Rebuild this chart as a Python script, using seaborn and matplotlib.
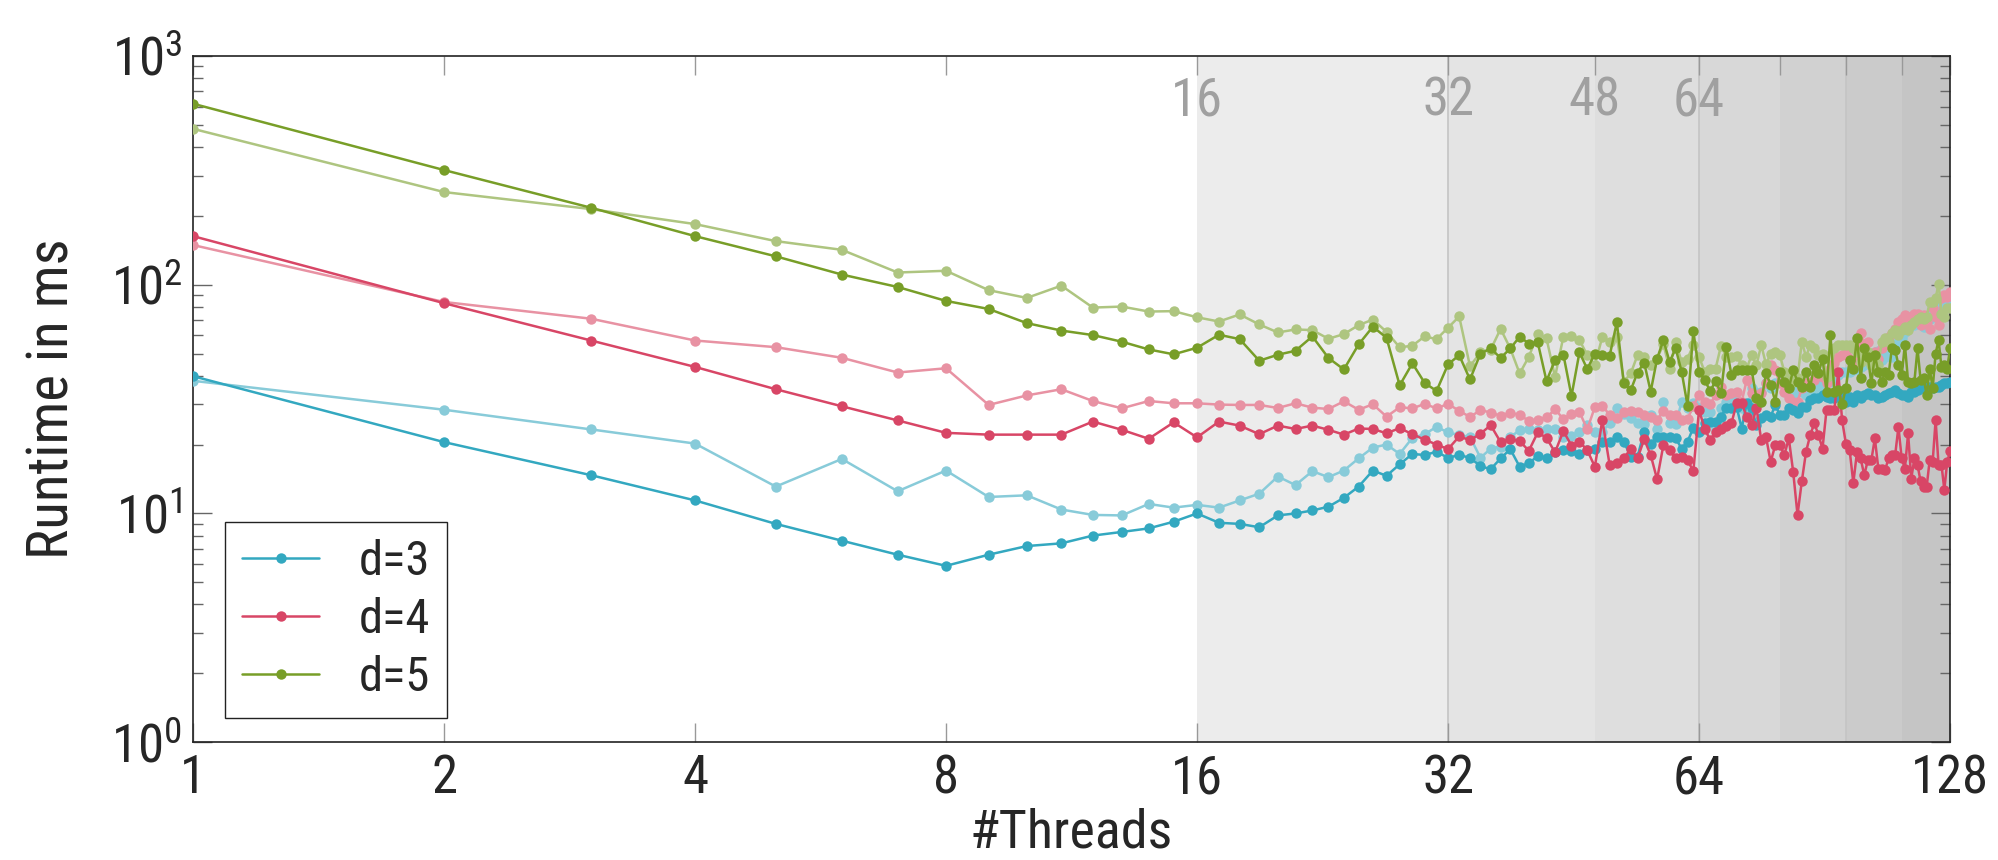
import numpy as np
import pandas as pd
import matplotlib
matplotlib.use('Agg')
import matplotlib.pyplot as plt
import matplotlib.ticker as mticker
from matplotlib import font_manager
import seaborn as sns

# threads 1..128, runtimes in ms
threads = list(range(1, 129))

d3_dark = [
    39.8, 20.5, 14.7, 11.4, 9.0, 7.6, 6.6, 5.9, 6.6, 7.2, 7.4, 8.0, 8.3, 8.6, 9.2, 10.0,
    9.1, 9.0, 8.7, 9.8, 10.0, 10.3, 10.7, 11.7, 13.1, 15.4, 14.6, 16.4, 18.2, 18.0, 18.6, 17.5,
    18.0, 17.5, 16.1, 15.6, 17.4, 19.1, 16.0, 16.6, 17.8, 17.5, 18.5, 18.9, 18.7, 18.1, 18.9, 19.2,
    20.6, 20.5, 21.6, 20.6, 17.7, 17.7, 22.8, 20.2, 21.6, 21.6, 21.6, 21.3, 19.2, 20.6, 23.7, 22.8,
    24.8, 25.2, 25.2, 26.5, 28.8, 28.8, 29.3, 23.5, 30.3, 28.8, 24.3, 26.0, 26.9, 26.5, 29.8, 26.9,
    26.9, 28.8, 28.3, 27.4, 29.3, 29.3, 31.3, 31.8, 31.8, 32.9, 32.3, 31.8, 31.8, 32.9, 32.9, 30.8,
    32.3, 30.8, 32.9, 31.8, 32.9, 33.5, 32.9, 32.9, 31.8, 32.3, 32.9, 33.5, 34.1, 34.7, 33.5, 32.9,
    32.9, 32.3, 34.1, 34.1, 34.7, 35.2, 35.2, 35.8, 35.8, 35.2, 35.8, 35.8, 36.4, 37.0, 37.0, 37.7]

d3_light = [
    38.0, 28.4, 23.3, 20.2, 13.1, 17.3, 12.5, 15.4, 11.8, 12.0, 10.4, 9.85, 9.8, 11.0, 10.6, 10.9,
    10.6, 11.4, 12.2, 14.5, 13.3, 15.3, 14.4, 15.4, 17.4, 19.4, 20.0, 18.2, 21.4, 22.2, 23.9, 22.6,
    22.0, 21.6, 17.5, 19.2, 19.6, 21.6, 23.1, 23.3, 23.2, 23.3, 23.5, 21.6, 21.8, 22.6, 24.3, 22.8,
    22.8, 24.8, 28.8, 27.1, 26.0, 24.8, 24.5, 26.9, 23.5, 30.8, 24.8, 24.5, 30.8, 28.8, 30.3, 28.8,
    27.8, 27.8, 23.5, 28.8, 30.8, 31.8, 30.8, 28.8, 26.9, 35.2, 33.5, 34.1, 37.0, 35.2, 37.0, 37.7,
    37.7, 34.1, 32.9, 35.2, 34.1, 32.9, 32.9, 33.5, 36.4, 35.2, 37.7, 37.7, 39.5, 40.3, 41.6, 41.6,
    41.6, 42.4, 43.0, 43.8, 44.5, 48.4, 50.0, 50.8, 51.5, 46.8, 48.4, 49.2, 48.4, 54.5, 56.2, 58.2,
    62.2, 64.1, 66.5, 66.5, 67.7, 68.8, 65.5, 70.0, 71.1, 77.4, 80.0, 84.1, 79.0, 81.3, 81.3, 81.3]

d4_dark = [
    163, 83, 57, 43.7, 34.9, 29.4, 25.5, 22.5, 22.1, 22.1, 22.1, 25.2, 23.2, 21.2, 25.0, 21.5,
    25.2, 24.2, 22.2, 24.2, 23.4, 24.2, 23.2, 22.1, 23.5, 23.4, 22.4, 23.6, 22.2, 21.0, 20.0, 19.1,
    21.7, 20.9, 22.3, 24.3, 20.5, 21.1, 20.7, 18.8, 22.6, 21.4, 18.5, 22.9, 19.8, 20.6, 18.9, 16.0,
    25.6, 16.3, 16.6, 17.4, 19.2, 17.4, 21.1, 18.0, 14.1, 19.9, 18.9, 17.4, 17.7, 17.1, 15.3, 28.3,
    23.5, 20.9, 22.8, 23.5, 24.1, 24.8, 30.3, 30.3, 26.5, 24.3, 28.8, 20.9, 21.6, 16.8, 19.9, 19.9,
    18.0, 21.3, 15.2, 9.85, 13.8, 18.6, 22.0, 24.8, 22.0, 19.2, 28.3, 28.3, 28.3, 41.6, 25.6, 20.2,
    18.9, 13.6, 18.6, 17.4, 14.7, 17.1, 17.1, 21.3, 15.7, 15.7, 15.5, 17.4, 18.0, 18.0, 23.9, 17.4,
    15.7, 22.4, 14.2, 17.4, 16.3, 13.8, 13.1, 13.1, 17.1, 16.8, 25.6, 16.3, 16.3, 12.7, 16.8, 18.7]

d4_light = [
    149, 84, 71, 57, 53.3, 47.9, 41.3, 43.1, 29.8, 32.8, 34.9, 31.0, 28.8, 31.0, 30.3, 30.3,
    29.9, 29.8, 29.8, 28.9, 30.3, 29.0, 28.6, 30.9, 28.4, 30.0, 26.5, 29.1, 28.8, 30.1, 28.8, 30.1,
    28.1, 26.4, 28.3, 27.6, 26.7, 27.6, 26.9, 25.4, 25.6, 26.3, 28.5, 25.9, 27.2, 27.8, 23.3, 29.2,
    29.6, 26.9, 26.2, 27.7, 28.1, 27.7, 26.9, 26.5, 25.6, 28.1, 26.9, 26.9, 25.6, 25.8, 29.6, 32.9,
    30.8, 30.0, 32.9, 35.8, 32.9, 33.5, 34.1, 30.8, 38.3, 33.5, 32.4, 33.5, 37.0, 44.5, 42.4, 37.0,
    34.1, 31.8, 30.8, 30.8, 35.2, 37.0, 37.6, 38.3, 40.3, 39.6, 37.0, 43.0, 45.3, 48.4, 49.2, 50.0,
    47.5, 44.5, 46.0, 61.2, 55.3, 56.2, 46.8, 50.9, 47.5, 52.6, 56.2, 59.2, 61.2, 64.3, 68.8, 71.1,
    73.6, 72.3, 71.1, 74.8, 74.2, 66.5, 73.6, 68.8, 64.3, 78.7, 72.3, 66.5, 87.1, 90.0, 88.5, 93.1]

d5_dark = [
    618, 317, 217, 163, 133, 110.7, 97.7, 84.9, 78.3, 67.9, 63.0, 60.2, 56.3, 52.1, 49.6, 53.0,
    60.4, 57.8, 46.5, 49.4, 51.4, 59.4, 47.8, 42.6, 54.8, 65.5, 58.6, 36.3, 45.3, 37.2, 34.3, 44.8,
    49.2, 38.5, 50.0, 52.6, 47.8, 52.6, 59.2, 55.3, 55.9, 37.9, 46.8, 49.5, 32.6, 50.6, 42.8, 49.9,
    49.5, 48.9, 68.4, 37.0, 34.6, 41.3, 45.6, 34.1, 47.5, 57.2, 46.0, 52.6, 41.6, 29.6, 62.6, 41.6,
    38.3, 34.3, 37.9, 33.5, 53.5, 40.3, 42.4, 42.4, 42.4, 42.4, 31.8, 30.8, 40.9, 36.6, 30.8, 41.6,
    37.7, 35.2, 42.4, 37.7, 35.8, 41.6, 35.8, 44.5, 40.9, 47.5, 34.1, 60.1, 34.1, 34.6, 30.0, 35.2,
    46.8, 43.0, 58.2, 38.9, 53.0, 48.4, 37.0, 49.2, 41.6, 37.7, 41.6, 40.3, 52.6, 51.8, 44.5, 40.3,
    54.5, 37.7, 37.0, 37.7, 52.6, 38.3, 39.0, 32.9, 43.0, 35.2, 50.0, 57.2, 43.6, 44.5, 43.0, 52.6]

d5_light = [
    480, 254, 214, 184, 155, 142, 113, 115, 94.6, 87.5, 99, 79.4, 80.2, 76.3, 76.6, 72.0,
    69.0, 74.1, 67.0, 61.8, 63.7, 63.3, 58.0, 60.8, 66.5, 70.4, 62.2, 53.2, 54.1, 59.4, 57.8, 64.8,
    72.6, 44.0, 50.6, 52.0, 64.1, 52.6, 40.9, 48.4, 60.8, 58.2, 39.5, 59.2, 59.6, 57.3, 49.2, 44.5,
    59.2, 56.2, 59.2, 37.7, 40.9, 49.2, 48.4, 44.5, 47.5, 54.8, 43.0, 56.2, 46.0, 47.5, 54.5, 48.4,
    41.6, 43.0, 43.0, 54.1, 48.4, 48.4, 48.9, 44.5, 43.0, 49.2, 44.5, 54.5, 44.8, 50.0, 50.9, 49.2,
    41.6, 40.3, 37.7, 39.0, 56.2, 48.4, 54.5, 52.6, 49.2, 50.0, 39.5, 40.3, 52.6, 54.5, 54.5, 54.5,
    54.5, 52.6, 50.9, 46.0, 47.5, 50.9, 44.5, 45.3, 44.5, 56.2, 58.2, 56.2, 61.2, 63.3, 60.1, 63.3,
    65.5, 63.3, 66.5, 68.8, 71.1, 72.3, 71.1, 72.3, 84.1, 84.1, 87.1, 101, 74.8, 72.3, 78.7, 78.7]

for s in (d3_dark, d3_light, d4_dark, d4_light, d5_dark, d5_light):
    assert len(s) == len(threads)

# shaded thread ranges and their grey levels
band_edges = [16, 32, 48, 64, 80, 96, 112, 128]
band_colors = ['#ececec', '#e4e4e4', '#dedede', '#d8d8d8', '#d1d1d1', '#cbcbcb', '#c5c5c5']
band_labels = ['16', '32', '48', '64']

colors = {
    'd3_dark': '#33a8c0', 'd3_light': '#88cbd9',
    'd4_dark': '#d84666', 'd4_light': '#e892a3',
    'd5_dark': '#789e28', 'd5_light': '#aec580',
}

# font: prefer a condensed face if one exists
names = {f.name for f in font_manager.fontManager.ttflist}
font = 'Roboto'
for cand in ['Roboto Condensed', 'Liberation Sans Narrow', 'Roboto']:
    if cand in names:
        font = cand
        break

sns.set_style('ticks')
plt.rcParams['font.family'] = [font, 'DejaVu Sans']
plt.rcParams['mathtext.fontset'] = 'custom'
plt.rcParams['mathtext.rm'] = font
plt.rcParams['mathtext.it'] = font

df = pd.DataFrame({'threads': threads})
for k, v in [('d3_dark', d3_dark), ('d3_light', d3_light), ('d4_dark', d4_dark),
             ('d4_light', d4_light), ('d5_dark', d5_dark), ('d5_light', d5_light)]:
    df[k] = v

fig = plt.figure(figsize=(19.98, 8.6), dpi=100)
ax = fig.add_axes([0.0966, 0.137, 0.8794, 0.798])

for i in range(len(band_colors)):
    ax.axvspan(band_edges[i], band_edges[i + 1], color=band_colors[i], lw=0, zorder=0)
for e in [32, 64, 96]:
    ax.axvline(e, color='#c4c4c4', lw=1.2, zorder=0.5)

order = [('d3_light', None), ('d4_light', None), ('d5_light', None),
         ('d3_dark', 'd=3'), ('d4_dark', 'd=4'), ('d5_dark', 'd=5')]
for key, lab in order:
    sns.lineplot(data=df, x='threads', y=key, ax=ax, color=colors[key],
                 marker='o', markersize=7.5, markeredgewidth=0, linewidth=1.8,
                 label=lab, legend=False, zorder=3)

ax.set_xscale('log', base=2)
ax.set_yscale('log')
ax.set_xlim(1, 128)
ax.set_ylim(1, 1000)

ax.xaxis.set_major_locator(mticker.FixedLocator([1, 2, 4, 8, 16, 32, 64, 128]))
ax.xaxis.set_major_formatter(mticker.FixedFormatter(['1', '2', '4', '8', '16', '32', '64', '128']))
ax.xaxis.set_minor_locator(mticker.FixedLocator([48, 80, 96, 112]))
ax.xaxis.set_minor_formatter(mticker.NullFormatter())
ax.tick_params(axis='x', which='major', direction='in', length=14, width=1,
               color='#999999', labelsize=38, pad=8, top=True)
ax.tick_params(axis='x', which='minor', direction='in', length=14, width=1,
               color='#999999', top=True, bottom=False)
ax.tick_params(axis='y', which='major', direction='in', length=14, width=1,
               color='#666666', labelsize=38, right=True, pad=8)
ax.tick_params(axis='y', which='minor', direction='in', length=7, width=1,
               color='#666666', right=True)
ax.yaxis.set_minor_locator(mticker.LogLocator(base=10, subs=np.arange(2, 10)))
ax.yaxis.set_minor_formatter(mticker.NullFormatter())

for sp in ax.spines.values():
    sp.set_color('#222222')
    sp.set_linewidth(1.2)

ax.set_xlabel('#Threads', fontsize=39, labelpad=2)
ax.set_ylabel('Runtime in ms', fontsize=41, labelpad=22)

for lab in band_labels:
    ax.text(float(lab), 0.935, lab, transform=ax.get_xaxis_transform(),
            ha='center', va='center', fontsize=38, color='#a0a0a0', zorder=2)

leg = ax.legend(loc='lower left', bbox_to_anchor=(0.018, 0.035), fontsize=35,
                frameon=True, fancybox=False, edgecolor='#222222', framealpha=1,
                handlelength=1.6, borderpad=0.35, labelspacing=0.25, handletextpad=0.8,
                borderaxespad=0)
leg.get_frame().set_linewidth(1.0)

fig.savefig('out.png', dpi=100, facecolor='white')
